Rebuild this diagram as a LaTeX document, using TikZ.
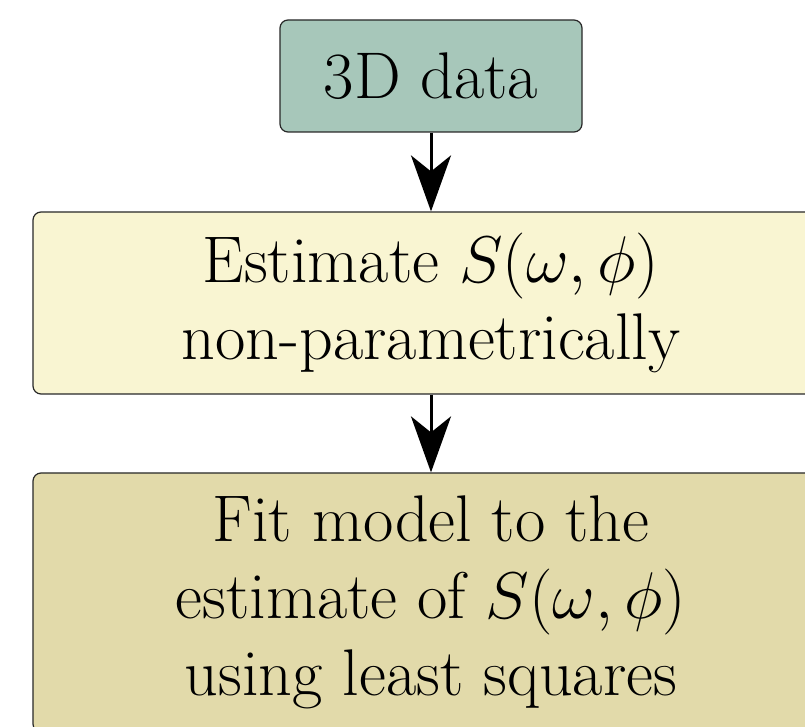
\documentclass[tikz,border=0pt]{standalone}
\usepackage{fix-cm}
\usetikzlibrary{arrows.meta}
\definecolor{topfill}{RGB}{167,199,186}
\definecolor{midfill}{RGB}{249,245,210}
\definecolor{botfill}{RGB}{226,218,170}
\definecolor{edge}{RGB}{40,40,40}
\tikzset{
  box/.style={draw=edge, line width=0.6pt, rounded corners=4pt, inner sep=0pt, align=center,
    font=\fontsize{33}{38.5}\selectfont},
  arr/.style={line width=1.5pt, -{Stealth[length=28pt,width=20pt,inset=8pt]}}
}
\begin{document}
\begin{tikzpicture}[x=1pt,y=1pt]
\useasboundingbox (0,0) rectangle (402.5,-363.5);
\begin{scope}
\clip (0,0) rectangle (402.5,-363.5);
\node[box, fill=topfill, minimum width=151pt, minimum height=56pt] (a) at (215.5,-38) {3D data};
\node[box, fill=midfill, minimum width=398pt, minimum height=91pt] (b) at (215.5,-151.5) {Estimate $S(\omega,\phi)$\\non-parametrically};
\node[box, fill=botfill, minimum width=398pt, minimum height=129.5pt] (c) at (215.5,-301.25) {Fit model to the\\estimate of $S(\omega,\phi)$\\using least squares};
\draw[arr] (a) -- (b);
\draw[arr] (b) -- (c);
\end{scope}
\end{tikzpicture}
\end{document}
